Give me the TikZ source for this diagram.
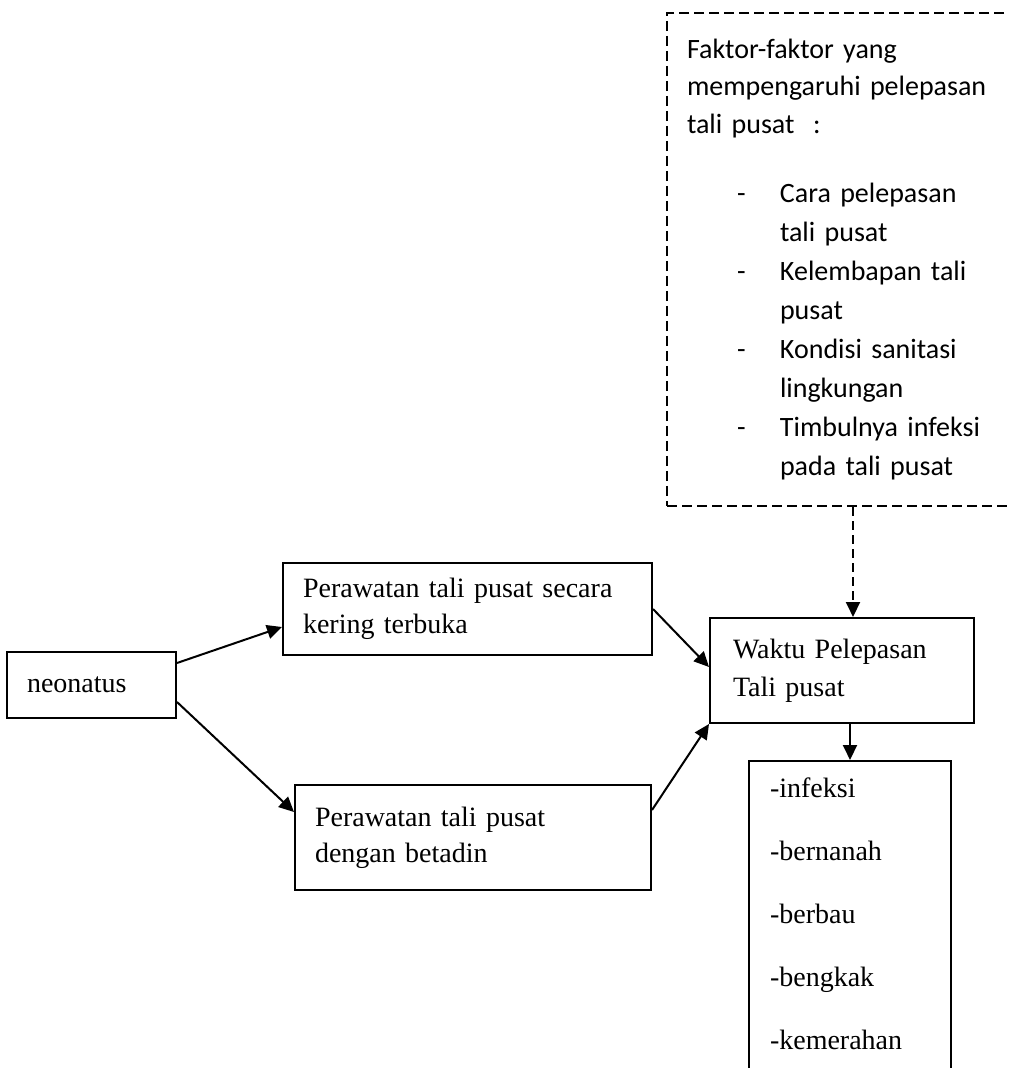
\documentclass[tikz,border=0pt]{standalone}
\usepackage{fontspec}
\setmainfont{Liberation Serif}
\newfontfamily\calibri{Carlito}
\usetikzlibrary{arrows.meta}

\begin{document}
\begin{tikzpicture}[x=0.5pt,y=-0.5pt]
        \path[use as bounding box, fill=white] (0,0) rectangle (1008,1068);
        \clip (0,0) rectangle (1008,1068);
        \begin{scope}[every node/.style={draw,line width=1pt,align=left,inner xsep=10pt,
                font=\fontsize{14}{18}\selectfont}]
            \node (neo) [text width=64.5pt, minimum height=33pt] at (91.5,685) {neonatus};
            \node (kering) [text width=164.5pt, minimum height=46pt] at (467.5,609)
                {Perawatan tali pusat secara\\kering terbuka};
            \node (betadin) [text width=158pt, minimum height=52.5pt] at (473,837.5)
                {Perawatan tali pusat\\dengan betadin};
            \node (waktu) [inner xsep=11.5pt, text width=109pt, minimum height=52.5pt] at (842,670.5)
                {Waktu Pelepasan\\[1pt]Tali pusat};
            \node (faktor) [dash pattern=on 5pt off 2.5pt, text width=166pt, minimum height=246.5pt,
                font=\calibri\fontsize{14}{19.5}\selectfont] at (853,259.5)
                {Faktor-faktor yang\\[-0.75pt]
                mempengaruhi pelepasan\\[-0.75pt]
                tali pusat~~:\\[15pt]
                \hspace*{25pt}\makebox[21.5pt][l]{-}Cara pelepasan\\
                \hspace*{46.5pt}tali pusat\\
                \hspace*{25pt}\makebox[21.5pt][l]{-}Kelembapan tali\\
                \hspace*{46.5pt}pusat\\
                \hspace*{25pt}\makebox[21.5pt][l]{-}Kondisi sanitasi\\
                \hspace*{46.5pt}lingkungan\\
                \hspace*{25pt}\makebox[21.5pt][l]{-}Timbulnya infeksi\\
                \hspace*{46.5pt}pada tali pusat};
        \end{scope}
        \node (tanda) [draw, line width=1pt, anchor=north west, inner xsep=10.5pt, inner ysep=0pt,
            font=\fontsize{14}{31.5}\selectfont] at (748,760)
            {\parbox[t][170pt][t]{80pt}{\rule{0pt}{18pt}-infeksi\\-bernanah\\-berbau\\-bengkak\\-kemerahan}};
        \begin{scope}[every edge/.style={draw,line width=1pt,-{Triangle[length=7.5pt,width=7pt]}}]
            \path
                ([yshift=11pt]neo.east) edge ([yshift=-9pt]kering.west)
                ([yshift=-8.5pt]neo.east) edge ([yshift=12.75pt]betadin.west)
                (kering.east) edge ([yshift=1.75pt]waktu.west)
                ([yshift=13.75pt]betadin.east) edge (waktu.south west)
                (waktu.south -| tanda.north) edge (tanda.north)
                (faktor.south) edge [dash pattern=on 4.5pt off 2.5pt] (faktor.south |- waktu.north);
        \end{scope}
    \end{tikzpicture}
\end{document}
